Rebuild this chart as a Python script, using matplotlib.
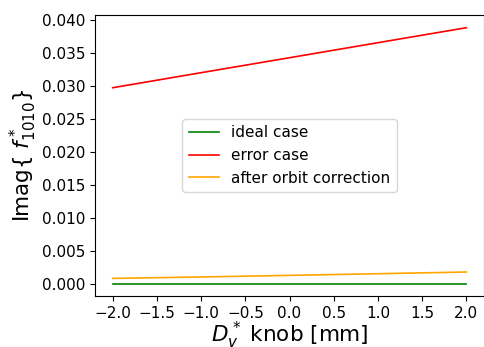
import matplotlib
matplotlib.use('Agg')
import matplotlib.pyplot as plt

# knob settings [mm]
knob = [-2.0, -1.0, 0.0, 1.0, 2.0]

# Imag{f*_1010} per case
ideal_case = [0.0, 0.0, 0.0, 0.0, 0.0]
error_case = [0.02970, 0.03198, 0.03425, 0.03653, 0.03880]
orbit_corrected = [0.00078, 0.00100, 0.00124, 0.00149, 0.00175]

labels = ['ideal case', 'error case', 'after orbit correction']
colors = ['green', 'red', 'orange']
xticks = [-2.0, -1.5, -1.0, -0.5, 0.0, 0.5, 1.0, 1.5, 2.0]

fig = plt.figure(figsize=(4.85, 3.47), dpi=100)
ax = fig.add_axes([0.196, 0.146, 0.802, 0.811])

for y, lab, c in zip([ideal_case, error_case, orbit_corrected], labels, colors):
    ax.plot(knob, y, color=c, label=lab, linewidth=1.2)

ax.set_xticks(xticks)
ax.set_xlabel(r'$D_v^*$ knob [mm]', fontsize=15.5, labelpad=-1)
ax.set_ylabel(r'Imag{ $f^*_{1010}$}', fontsize=15.5, labelpad=2)
ax.tick_params(labelsize=11)
ax.legend(loc='center', fontsize=11)

fig.savefig('out.png', dpi=100)
plt.close(fig)
